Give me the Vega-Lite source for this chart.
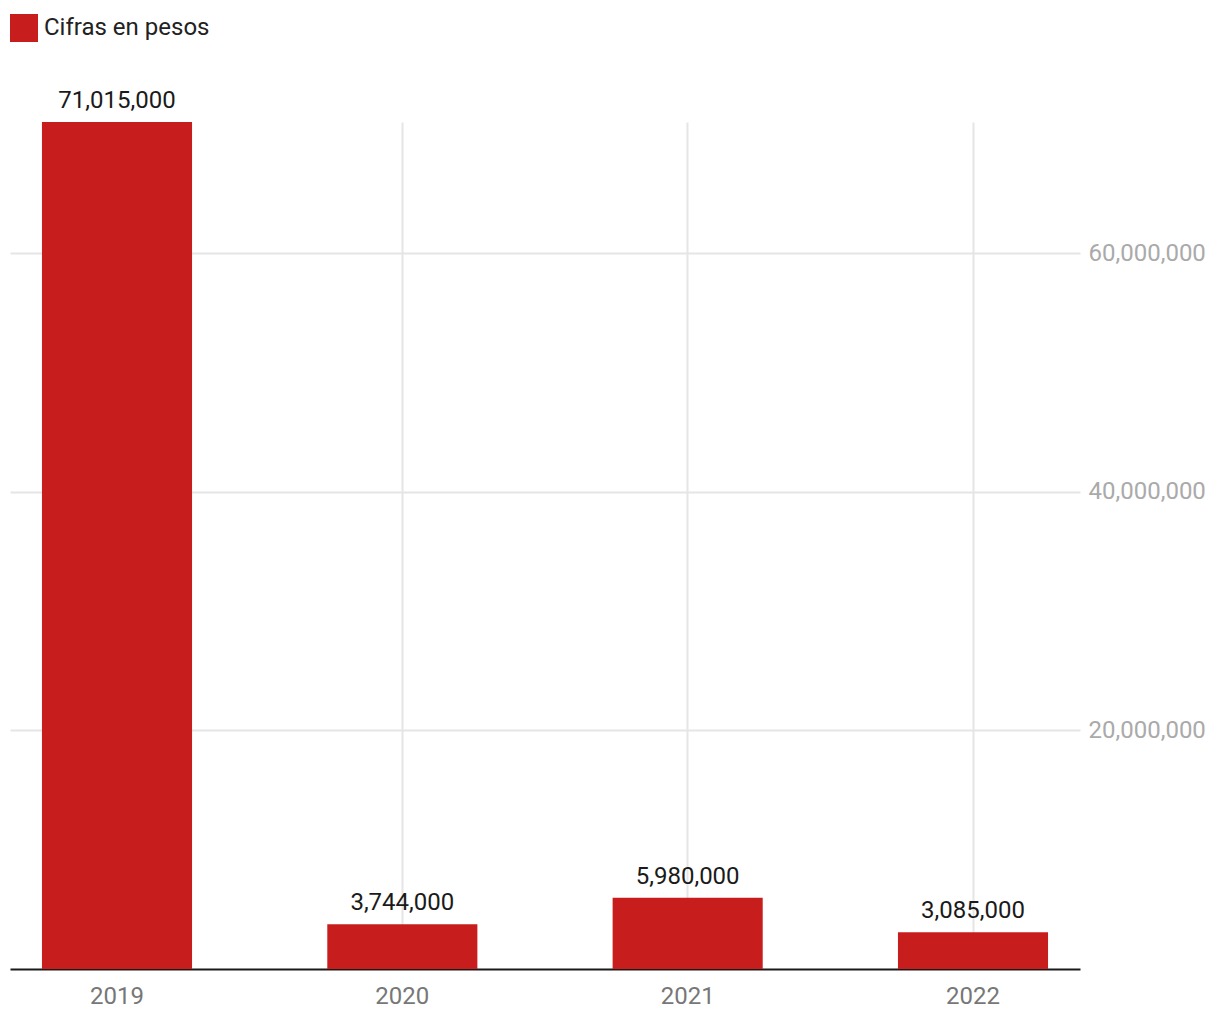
{
  "$schema": "https://vega.github.io/schema/vega-lite/v6.json",
  "autosize": {"type": "none"},
  "width": 1070,
  "height": 847,
  "padding": {"left": 10, "top": 122, "right": 140, "bottom": 51},
  "background": "white",
  "config": {
    "font": "Roboto",
    "view": {"stroke": null}
  },
  "data": {
    "values": [
      {"anio": "2019", "valor": 71015000, "serie": "Cifras en pesos"},
      {"anio": "2020", "valor": 3744000, "serie": "Cifras en pesos"},
      {"anio": "2021", "valor": 5980000, "serie": "Cifras en pesos"},
      {"anio": "2022", "valor": 3085000, "serie": "Cifras en pesos"}
    ]
  },
  "encoding": {
    "x": {
      "field": "anio",
      "type": "nominal",
      "sort": null,
      "scale": {"paddingInner": 0.474, "paddingOuter": 0.112},
      "axis": {
        "title": null,
        "labelAngle": 0,
        "labelFont": "Roboto",
        "labelFontSize": 24,
        "labelColor": "#777777",
        "labelPadding": 15,
        "ticks": false,
        "domain": true,
        "domainColor": "#1a1a1a",
        "domainWidth": 2,
        "grid": true,
        "bandPosition": 0.5,
        "gridColor": "#e5e5e5",
        "gridWidth": 2,
        "zindex": 0
      }
    },
    "y": {
      "field": "valor",
      "type": "quantitative",
      "scale": {"domain": [0, 71015000], "nice": false},
      "axis": {
        "orient": "right",
        "title": null,
        "values": [20000000, 40000000, 60000000],
        "format": ",d",
        "labelFont": "Roboto",
        "labelFontSize": 24,
        "labelColor": "#aaaaaa",
        "labelPadding": 8,
        "ticks": false,
        "domain": false,
        "grid": true,
        "gridColor": "#e5e5e5",
        "gridWidth": 2,
        "zindex": 0
      }
    }
  },
  "layer": [
    {
      "mark": {"type": "bar", "color": "#c71e1d"},
      "encoding": {
        "color": {
          "field": "serie",
          "type": "nominal",
          "scale": {"range": ["#c71e1d"]},
          "legend": {
            "title": null,
            "orient": "none",
            "legendX": 0,
            "legendY": -108,
            "symbolType": "square",
            "symbolSize": 784,
            "symbolStrokeWidth": 0,
            "symbolOpacity": 1,
            "labelFont": "Roboto",
            "labelFontSize": 24,
            "labelColor": "#222222",
            "labelOffset": 6,
            "labelLimit": 500,
            "padding": 0
          }
        }
      }
    },
    {
      "mark": {"type": "text", "baseline": "bottom", "dy": -9, "font": "Roboto", "fontSize": 24, "color": "#1a1a1a"},
      "encoding": {
        "text": {"field": "valor", "type": "quantitative", "format": ",d"}
      }
    }
  ]
}
